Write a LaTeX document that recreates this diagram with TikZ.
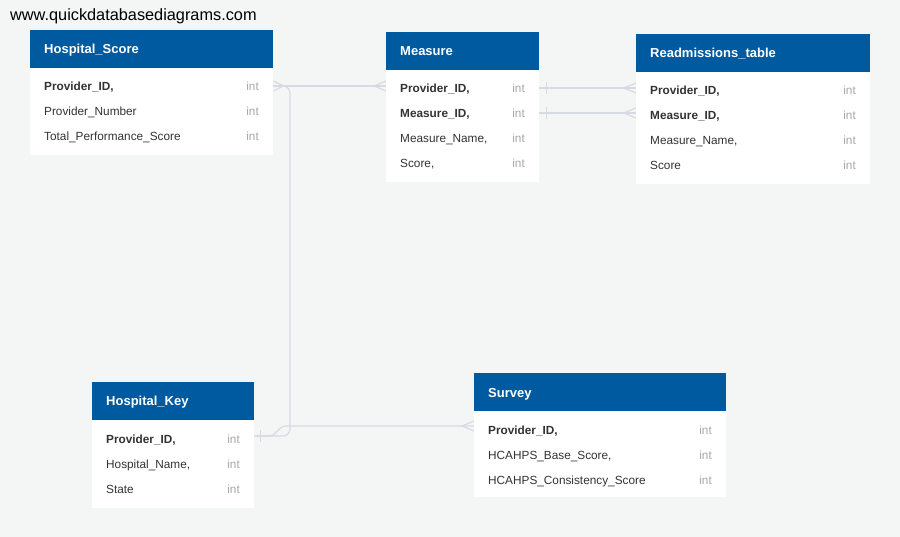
\documentclass[tikz,border=0pt]{standalone}
\usepackage{fontspec}
\setmainfont{Liberation Sans}
\definecolor{qdbblue}{RGB}{0,90,160}
\definecolor{qdbback}{RGB}{244,245,245}
\definecolor{qdbtext}{RGB}{51,51,51}
\definecolor{qdbtype}{RGB}{168,168,168}
\definecolor{qdbline}{RGB}{214,218,226}
\tikzset{
  tblhead/.style={draw=none,fill=qdbblue,anchor=north west,minimum height=38pt,inner sep=0pt},
  tblbody/.style={draw=none,fill=white,anchor=north west,inner sep=0pt},
  tbltitle/.style={anchor=base west,text=white,font=\fontsize{13}{15}\selectfont\bfseries,inner sep=0pt},
  field/.style={anchor=base west,text=qdbtext,font=\fontsize{11.8}{14}\selectfont,inner sep=0pt},
  keyfield/.style={field,font=\fontsize{11.8}{14}\selectfont\bfseries},
  ftype/.style={anchor=base east,text=qdbtype,font=\fontsize{11.8}{14}\selectfont,inner sep=0pt},
  conn/.style={draw=qdbline,line width=1.2pt}
}
\begin{document}
\begin{tikzpicture}[x=1pt,y=-1pt]
  \useasboundingbox[fill=qdbback] (0,0) rectangle (900,537);
  \node[anchor=base west,font=\fontsize{16.3}{18}\selectfont,inner sep=0pt] (site) at (10,21) {www.quickdatabasediagrams.com};

  % Hospital_Score
  \node[tblhead,minimum width=243pt] (hs) at (30,30) {};
  \node[tblbody,minimum width=243pt,minimum height=87pt] (hsbody) at (30,68) {};
  \node[tbltitle] (hstitle) at (44,54) {Hospital\_Score};
  \node[keyfield] (hs1) at (44,91) {Provider\_ID,};
  \node[field] (hs2) at (44,116) {Provider\_Number};
  \node[field] (hs3) at (44,141) {Total\_Performance\_Score};
  \node[ftype] (hs1t) at (259,91) {int};
  \node[ftype] (hs2t) at (259,116) {int};
  \node[ftype] (hs3t) at (259,141) {int};

  % Measure
  \node[tblhead,minimum width=153pt] (ms) at (386,32) {};
  \node[tblbody,minimum width=153pt,minimum height=112pt] (msbody) at (386,70) {};
  \node[tbltitle] (mstitle) at (400,56) {Measure};
  \node[keyfield] (ms1) at (400,93) {Provider\_ID,};
  \node[keyfield] (ms2) at (400,118) {Measure\_ID,};
  \node[field] (ms3) at (400,143) {Measure\_Name,};
  \node[field] (ms4) at (400,168) {Score,};
  \node[ftype] (ms1t) at (525,93) {int};
  \node[ftype] (ms2t) at (525,118) {int};
  \node[ftype] (ms3t) at (525,143) {int};
  \node[ftype] (ms4t) at (525,168) {int};

  % Readmissions_table
  \node[tblhead,minimum width=234pt] (rt) at (636,34) {};
  \node[tblbody,minimum width=234pt,minimum height=112pt] (rtbody) at (636,72) {};
  \node[tbltitle] (rttitle) at (650,58) {Readmissions\_table};
  \node[keyfield] (rt1) at (650,95) {Provider\_ID,};
  \node[keyfield] (rt2) at (650,120) {Measure\_ID,};
  \node[field] (rt3) at (650,145) {Measure\_Name,};
  \node[field] (rt4) at (650,170) {Score};
  \node[ftype] (rt1t) at (856,95) {int};
  \node[ftype] (rt2t) at (856,120) {int};
  \node[ftype] (rt3t) at (856,145) {int};
  \node[ftype] (rt4t) at (856,170) {int};

  % Hospital_Key
  \node[tblhead,minimum width=162pt] (hk) at (92,382) {};
  \node[tblbody,minimum width=162pt,minimum height=88pt] (hkbody) at (92,420) {};
  \node[tbltitle] (hktitle) at (106,406) {Hospital\_Key};
  \node[keyfield] (hk1) at (106,443) {Provider\_ID,};
  \node[field] (hk2) at (106,468) {Hospital\_Name,};
  \node[field] (hk3) at (106,493) {State};
  \node[ftype] (hk1t) at (240,443) {int};
  \node[ftype] (hk2t) at (240,468) {int};
  \node[ftype] (hk3t) at (240,493) {int};

  % Survey
  \node[tblhead,minimum width=252pt] (sv) at (474,373) {};
  \node[tblbody,minimum width=252pt,minimum height=86pt] (svbody) at (474,411) {};
  \node[tbltitle] (svtitle) at (488,397) {Survey};
  \node[keyfield] (sv1) at (488,434) {Provider\_ID,};
  \node[field] (sv2) at (488,459) {HCAHPS\_Base\_Score,};
  \node[field] (sv3) at (488,484) {HCAHPS\_Consistency\_Score};
  \node[ftype] (sv1t) at (712,434) {int};
  \node[ftype] (sv2t) at (712,459) {int};
  \node[ftype] (sv3t) at (712,484) {int};

  % end points of the relations
  \coordinate (hsP) at (hsbody.east |- 0,86);
  \coordinate (msP) at (msbody.west |- hsP);
  \coordinate (msA) at (msbody.east |- 0,88);
  \coordinate (msB) at (msbody.east |- 0,113);
  \coordinate (rtA) at (rtbody.west |- msA);
  \coordinate (rtB) at (rtbody.west |- msB);
  \coordinate (hkP) at (hkbody.east |- 0,436);
  \coordinate (svP) at (svbody.west |- 0,426);
  \coordinate (bend) at (290,0);

  \begin{scope}[conn]
    \draw (hsP) -- (msP);
    \draw (msA) -- (rtA);
    \draw (msB) -- (rtB);
    \draw[rounded corners=7pt] (hkP) -| (bend |- hsP) -- (hsP);
    \draw (hkP) -- ++(14,0) .. controls ++(9,0) and ++(-9,0) .. ++(18,-10) -- (svP);
    % many ends
    \draw (hsP) ++(0,-5) -- ++(10,5) -- ++(-10,5);
    \draw (msP) ++(0,-5) -- ++(-12,5) -- ++(12,5);
    \draw (rtA) ++(0,-5) -- ++(-12,5) -- ++(12,5);
    \draw (rtB) ++(0,-5) -- ++(-12,5) -- ++(12,5);
    \draw (svP) ++(0,-5) -- ++(-12,5) -- ++(12,5);
    % one ends
    \draw (msA) ++(7,-6) -- ++(0,12);
    \draw (msB) ++(7,-6) -- ++(0,12);
    \draw (hkP) ++(6,-6) -- ++(0,12);
  \end{scope}
\end{tikzpicture}
\end{document}
